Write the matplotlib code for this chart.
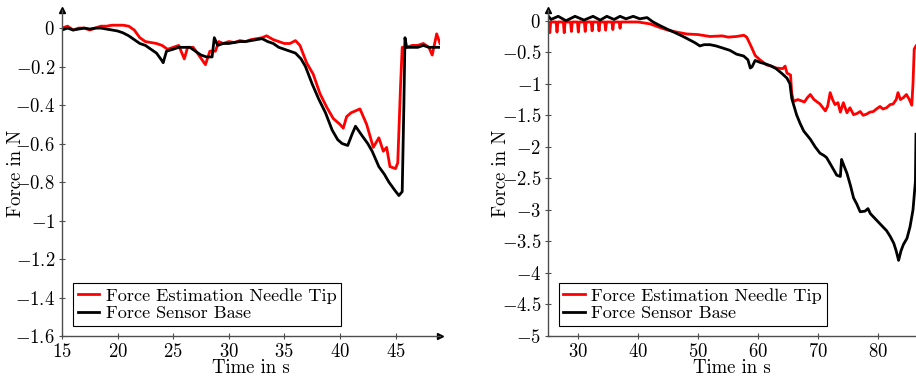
import matplotlib
matplotlib.use("Agg")
import matplotlib.pyplot as plt
from matplotlib.ticker import FuncFormatter

plt.rcParams['font.family'] = 'cmr10'
plt.rcParams['mathtext.fontset'] = 'cm'
plt.rcParams['axes.formatter.use_mathtext'] = True

# ---- left panel: time (s), force (N) ----
left_t_tip = [15.0, 15.5, 16.0, 16.5, 17.0, 17.5, 18.0, 18.5, 19.0, 19.5, 20.0, 20.5,
              21.0, 21.5, 22.0, 22.5, 23.0, 23.5, 24.0, 24.5, 25.0, 25.5, 26.0, 26.3,
              26.8, 27.3, 27.9, 28.3, 28.8, 29.1, 29.5, 30.0, 30.5, 31.0, 31.5, 32.0,
              32.5, 33.0, 33.4, 34.0, 34.5, 35.0, 35.5, 36.0, 36.4, 37.0, 37.6, 38.2,
              38.8, 39.4, 40.0, 40.3, 40.6, 41.0, 41.4, 41.8, 42.4, 43.0, 43.5, 43.9,
              44.2, 44.5, 45.0, 45.2, 45.45, 45.6, 46.0, 46.5, 47.0, 47.5, 48.0, 48.3,
              48.7, 49.0]
left_f_tip = [0.00, 0.01, -0.01, 0.00, 0.00, -0.01, 0.00, 0.01, 0.01, 0.015, 0.015, 0.015,
              0.01, -0.01, -0.05, -0.07, -0.075, -0.08, -0.09, -0.11, -0.10, -0.09, -0.16, -0.10,
              -0.10, -0.14, -0.19, -0.12, -0.12, -0.07, -0.08, -0.07, -0.075, -0.065, -0.07, -0.06,
              -0.055, -0.05, -0.04, -0.06, -0.07, -0.08, -0.08, -0.065, -0.09, -0.18, -0.24, -0.34,
              -0.41, -0.47, -0.50, -0.52, -0.46, -0.44, -0.43, -0.42, -0.50, -0.62, -0.57, -0.64,
              -0.62, -0.72, -0.73, -0.70, -0.30, -0.10, -0.10, -0.09, -0.09, -0.08, -0.10, -0.14,
              -0.03, -0.08]

left_t_base = [15.0, 15.5, 16.0, 16.5, 17.0, 17.5, 18.0, 18.5, 19.0, 19.5, 20.0, 20.5,
               21.0, 21.5, 22.0, 22.5, 23.0, 23.5, 24.0, 24.1, 24.4, 25.0, 25.5, 26.0,
               26.5, 27.0, 27.5, 28.0, 28.5, 28.7, 29.0, 29.5, 30.0, 30.5, 31.0, 31.5,
               32.0, 32.5, 33.0, 33.5, 34.0, 34.5, 35.0, 35.5, 36.0, 36.5, 36.9, 37.5,
               38.1, 38.7, 39.3, 39.8, 40.2, 40.7, 41.1, 41.4, 42.0, 42.5, 42.9, 43.5,
               44.0, 44.4, 44.9, 45.3, 45.6, 45.75, 45.85, 46.0, 46.5, 47.0, 47.5, 48.0,
               48.5, 49.0]
left_f_base = [-0.01, 0.00, -0.01, -0.005, 0.00, -0.005, 0.00, 0.00, -0.005, -0.01, -0.015, -0.025,
               -0.04, -0.06, -0.08, -0.09, -0.11, -0.13, -0.17, -0.18, -0.12, -0.11, -0.10, -0.10,
               -0.10, -0.12, -0.14, -0.15, -0.15, -0.05, -0.09, -0.08, -0.08, -0.075, -0.07, -0.07,
               -0.065, -0.06, -0.055, -0.07, -0.08, -0.10, -0.11, -0.12, -0.13, -0.16, -0.20, -0.29,
               -0.37, -0.44, -0.53, -0.58, -0.60, -0.61, -0.55, -0.51, -0.56, -0.60, -0.64, -0.72,
               -0.76, -0.80, -0.84, -0.87, -0.85, -0.40, -0.05, -0.10, -0.10, -0.10, -0.09, -0.10,
               -0.10, -0.10]

# ---- right panel ----
right_t_tip = [25.0, 25.15, 25.3, 25.45, 26.35, 26.5, 26.65, 27.55, 27.7, 27.85, 28.75, 28.9,
               29.05, 29.9, 30.05, 30.2, 31.05, 31.2, 31.35, 32.2, 32.35, 32.5, 33.35, 33.5,
               33.65, 34.45, 34.6, 34.75, 35.65, 35.8, 35.95, 36.85, 37.0, 37.15, 38.0, 40.0,
               42.0, 43.7, 45.0, 46.4, 48.1, 50.0, 52.0, 54.0, 55.0, 56.4, 57.6, 58.1,
               58.9, 59.5, 60.3, 61.4, 62.2, 63.0, 64.1, 64.5, 64.8, 65.4, 65.6, 65.9,
               66.6, 67.2, 67.7, 68.2, 68.7, 69.3, 70.3, 71.2, 71.6, 72.0, 72.4, 72.8,
               73.3, 73.7, 74.2, 74.8, 75.3, 75.9, 76.5, 77.0, 77.5, 78.1, 78.6, 79.2,
               79.7, 80.3, 80.8, 81.4, 82.0, 82.5, 83.0, 83.3, 83.7, 84.2, 84.7, 85.2,
               85.6, 85.8, 86.0, 86.3]
right_f_tip = [-0.02, -0.02, -0.19, -0.02, -0.02, -0.18, -0.02, -0.02, -0.19, -0.02, -0.02, -0.17,
               -0.02, -0.02, -0.18, -0.02, -0.02, -0.17, -0.02, -0.02, -0.16, -0.02, -0.02, -0.16,
               -0.02, -0.02, -0.15, -0.02, -0.02, -0.14, -0.02, -0.02, -0.12, -0.02, -0.02, -0.02,
               -0.05, -0.11, -0.15, -0.18, -0.21, -0.22, -0.25, -0.24, -0.26, -0.25, -0.23, -0.26,
               -0.42, -0.55, -0.62, -0.70, -0.72, -0.75, -0.76, -0.72, -0.83, -0.86, -1.15, -1.28,
               -1.25, -1.27, -1.29, -1.22, -1.17, -1.25, -1.32, -1.43, -1.35, -1.14, -1.25, -1.33,
               -1.30, -1.45, -1.30, -1.46, -1.38, -1.49, -1.47, -1.44, -1.50, -1.48, -1.45, -1.44,
               -1.40, -1.36, -1.40, -1.38, -1.33, -1.32, -1.25, -1.14, -1.25, -1.22, -1.17, -1.25,
               -1.34, -1.00, -0.45, -0.40]

right_t_base = [25.0, 25.5, 26.7, 28.0, 29.5, 31.0, 32.5, 33.7, 34.8, 36.0, 37.0, 38.0,
                39.2, 40.3, 41.5, 42.5, 43.7, 45.0, 46.4, 47.5, 48.5, 49.5, 50.3, 51.0,
                52.0, 53.0, 54.0, 55.3, 56.4, 57.6, 58.3, 58.7, 59.0, 59.5, 60.3, 61.4,
                62.2, 63.0, 64.0, 64.8, 65.3, 65.6, 66.4, 67.0, 67.6, 68.7, 69.5, 70.3,
                71.0, 71.4, 72.2, 73.1, 73.7, 73.9, 74.3, 74.8, 75.4, 75.9, 76.4, 77.0,
                77.8, 78.3, 78.7, 79.3, 79.8, 80.5, 81.4, 82.0, 82.6, 83.0, 83.4, 83.8,
                84.2, 84.8, 85.3, 85.8, 86.2, 86.3]
right_f_base = [0.08, 0.02, 0.07, 0.00, 0.07, 0.01, 0.07, 0.01, 0.07, 0.02, 0.07, 0.03,
                0.07, 0.03, 0.05, -0.02, -0.08, -0.14, -0.20, -0.25, -0.30, -0.35, -0.40, -0.38,
                -0.38, -0.40, -0.43, -0.47, -0.53, -0.56, -0.62, -0.75, -0.73, -0.63, -0.66, -0.69,
                -0.72, -0.76, -0.84, -0.91, -1.00, -1.23, -1.49, -1.63, -1.75, -1.88, -2.00, -2.10,
                -2.14, -2.17, -2.30, -2.45, -2.47, -2.20, -2.30, -2.42, -2.62, -2.81, -2.90, -3.03,
                -3.02, -2.98, -3.06, -3.12, -3.17, -3.24, -3.33, -3.42, -3.53, -3.65, -3.80, -3.65,
                -3.55, -3.45, -3.27, -3.00, -2.55, -1.80]

left_xticks = [15, 20, 25, 30, 35, 40, 45]
left_yticks = [0, -0.2, -0.4, -0.6, -0.8, -1, -1.2, -1.4, -1.6]
right_xticks = [30, 40, 50, 60, 70, 80]
right_yticks = [0, -0.5, -1, -1.5, -2, -2.5, -3, -3.5, -4, -4.5, -5]

label_tip = 'Force Estimation Needle Tip'
label_base = 'Force Sensor Base'

axis_grey = '0.3'
fs = 13.5
fmt = FuncFormatter(lambda v, pos: '$%g$' % v)


def style_axes(ax, xticks, yticks, x_arrow=True):
    for side in ['top', 'right']:
        ax.spines[side].set_visible(False)
    for side in ['left', 'bottom']:
        ax.spines[side].set_color(axis_grey)
        ax.spines[side].set_linewidth(1.0)
    ax.set_xticks(xticks)
    ax.set_yticks(yticks)
    ax.xaxis.set_major_formatter(fmt)
    ax.yaxis.set_major_formatter(fmt)
    ax.tick_params(direction='inout', length=4, width=0.8, color=axis_grey,
                   labelsize=fs, pad=3)
    ax.set_xlabel('Time in s', fontsize=fs)
    ax.set_ylabel('Force in N', fontsize=fs)
    ax.plot(0, 1, marker='^', color='k', markersize=5, transform=ax.transAxes, clip_on=False)
    if x_arrow:
        ax.plot(1, 0, marker='>', color='k', markersize=5, transform=ax.transAxes, clip_on=False)
    leg = ax.legend(loc='lower left', bbox_to_anchor=(0.029, 0.031), borderaxespad=0,
                    fontsize=13.1, handlelength=1.2, handletextpad=0.35, labelspacing=0.1,
                    borderpad=0.25, fancybox=False, framealpha=1)
    leg.get_frame().set_edgecolor('k')
    leg.get_frame().set_linewidth(0.8)


fig = plt.figure(figsize=(9.16, 3.8), dpi=100)

ax1 = fig.add_axes([62 / 916, 44 / 380, 378 / 916, 326 / 380])
ax1.plot(left_t_tip, left_f_tip, color='red', lw=2.0, label=label_tip)
ax1.plot(left_t_base, left_f_base, color='black', lw=2.0, label=label_base)
ax1.set_xlim(15, 49)
ax1.set_ylim(-1.6, 0.094)
style_axes(ax1, left_xticks, left_yticks)
ax1.xaxis.set_label_coords(0.5, -0.07)
ax1.yaxis.set_label_coords(-0.098, 0.5)

ax2 = fig.add_axes([548 / 916, 44 / 380, 368 / 916, 326 / 380])
ax2.plot(right_t_tip, right_f_tip, color='red', lw=2.0, label=label_tip)
ax2.plot(right_t_base, right_f_base, color='black', lw=2.0, label=label_base)
ax2.set_xlim(25, 86.3)
ax2.set_ylim(-5, 0.17)
style_axes(ax2, right_xticks, right_yticks, x_arrow=False)
ax2.xaxis.set_label_coords(0.5, -0.07)
ax2.yaxis.set_label_coords(-0.103, 0.5)

fig.savefig('out.png', dpi=100)
